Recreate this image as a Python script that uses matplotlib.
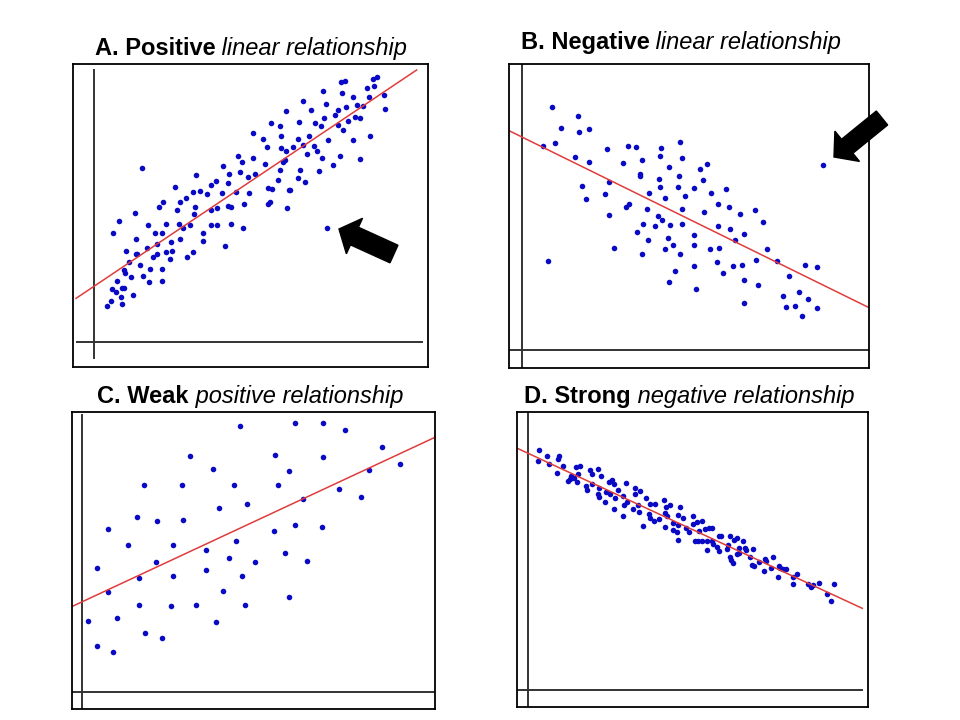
import numpy as np
import matplotlib
matplotlib.use("Agg")
import matplotlib.pyplot as plt
from matplotlib.patches import FancyArrow

plt.rcParams['font.family'] = ['Liberation Sans', 'DejaVu Sans']

pts_a = [(812,67),(825,63),(908,58),(922,52),(890,84),(912,77),(943,104),(946,146),(898,111),
         (880,138),(860,135),(850,112),(817,100),(829,142),(804,150),(795,166),(856,170),(869,174),
         (835,183),(805,195),(818,211),(850,240),(901,229),(871,297),(810,288),(790,316),(748,332),
         (757,295),(742,274),(732,257),(775,240),(753,198),(762,173),(767,132),(759,94),(735,190),
         (716,228),(712,281),(700,255),(724,150),(700,122),(686,187),(683,237),(690,329),(684,353),
         (704,367),(659,390),(652,443),(645,301),(630,329),(633,263),(649,273),(668,260),(640,305),
         (624,360),(634,229),(630,198),(648,153),(604,190),(590,260),(580,236),(550,218),(585,312),
         (550,295),(517,305),(503,287),(510,336),(535,352),(556,343),(537,398),(523,432),(497,395),
         (478,342),(474,370),(459,318),(455,398),(437,363),(423,375),(410,402),(379,346),(389,392),
         (368,395),(348,413),(316,381),(331,425),(376,440),(372,461),(360,495),(338,505),(326,491),
         (322,450),(289,491),(278,426),(268,440),(423,450),(440,443),(473,437),(483,440),(482,491),
         (423,494),(442,494),(520,505),(465,557),(400,519),(400,543),(369,575),(350,591),(331,537),
         (303,547),(306,572),(289,575),(300,596),(276,627),(275,664),(262,553),(255,520),(276,520),
         (262,582),(250,590),(241,626),(233,495),(230,565),(219,647),(210,615),(197,581),(200,583),
         (198,536),(195,460),(215,325),(147,482),(130,519),(168,572),(176,605),(162,630),(165,639),
         (182,651),(140,664),(127,686),(137,697),(157,684),(162,683),(153,712),(157,733),(124,722),
         (112,737),(188,706),(236,667),(594,432),(600,427),(593,384),(605,386),(658,390),(770,505)]

pts_b = [(142,141),(218,167),(168,203),(222,217),(251,207),(149,250),(113,258),(210,291),(251,305),
         (305,268),(368,258),(393,262),(355,308),(411,301),(404,342),(405,347),(467,265),(465,287),
         (524,246),(531,294),(491,320),(586,326),(607,312),(593,359),(522,349),(461,356),(465,381),
         (520,381),(566,385),(541,407),(433,399),(480,413),(372,432),(363,442),(426,447),(458,468),
         (470,479),(451,497),(415,493),(396,516),(429,541),(313,365),(300,403),(232,377),(243,417),
         (313,464),(327,563),(410,581),(479,567),(488,534),(494,494),(505,556),(524,581),(531,447),
         (531,493),(567,526),(567,556),(614,567),(641,563),(618,400),(639,432),(664,388),(673,442),
         (706,462),(749,450),(774,487),(640,497),(676,508),(716,523),(690,541),(786,567),(753,599),
         (817,602),(710,614),(684,617),(636,606),(654,639),(566,618),(509,632),(493,665),(574,687),
         (716,661),(760,676),(716,730),(596,455),(853,647),(901,614),(937,621),(883,697),(833,708),
         (909,716),(843,741),(869,738),(891,767),(937,745),(954,316),(128,602)]

pts_c = [(525,62),(691,55),(773,55),(839,76),(951,125),(1004,178),(913,194),(887,277),(823,252),
         (773,157),(631,150),(672,199),(638,241),(507,241),(443,192),(375,153),(352,241),(236,241),
         (461,308),(547,298),(713,283),(691,361),(770,365),(627,378),(660,443),(726,467),(570,471),
         (514,407),(491,460),(423,435),(423,495),(530,513),(473,558),(540,600),(672,576),(453,650),
         (393,600),(318,604),(325,513),(325,421),(355,344),(277,348),(216,337),(128,372),(190,421),
         (272,471),(221,520),(96,488),(130,562),(221,601),(155,640),(69,647),(239,685),(292,700),
         (96,724),(145,742)]

pts_d = [(87,135),(83,167),(112,153),(118,178),(148,152),(145,163),(158,182),(140,203),(198,186),
         (210,182),(204,207),(184,213),(175,228),(180,222),(192,220),(202,232),(228,242),(232,255),
         (240,196),(246,207),(263,192),(273,213),(245,236),(268,250),(263,268),(266,275),(285,292),
         (288,262),(300,268),(298,230),(305,226),(312,236),(323,256),(316,280),(312,312),(340,272),
         (348,235),(342,300),(350,290),(338,333),(368,312),(376,250),(390,257),(376,267),(383,300),
         (386,322),(400,362),(408,280),(420,297),(418,326),(432,348),(436,297),(420,340),(448,343),
         (463,285),(468,305),(480,300),(465,325),(470,333),(466,365),(490,355),(488,375),(500,380),
         (510,305),(505,330),(520,338),(505,360),(503,404),(527,370),(538,382),(548,334),(548,357),
         (562,352),(575,348),(555,408),(565,408),(575,408),(568,378),(585,372),(598,370),(605,370),
         (592,408),(605,408),(610,418),(590,436),(622,425),(628,437),(628,394),(632,392),(650,433),
         (660,393),(655,420),(660,455),(663,465),(668,473),(672,405),(682,400),(680,446),(688,428),
         (686,445),(700,408),(705,428),(708,436),(730,432),(720,455),(726,480),(733,482),(746,472),
         (765,461),(768,468),(762,499),(784,488),(790,455),(808,482),(810,490),(820,493),(828,493),
         (805,517),(848,515),(848,538),(862,506),(894,537),(903,545),(910,541),(927,535),(972,538),
         (951,566),(962,587)]

# fitted lines (two end points each)
fit_a = [(18, 715), (1040, 30)]
fit_b = [(12, 212), (1090, 742)]
fit_c = [(20, 605), (1110, 97)]
fit_d = [(22, 130), (1057, 610)]

title_bold = ["A. Positive", "B. Negative", "C. Weak", "D. Strong"]
title_ital = [" linear relationship", " linear relationship",
              " positive relationship", " negative relationship"]
title_pos = [(251, 55), (681, 49), (250, 403), (689, 403)]

W, H = 960, 720
fig = plt.figure(figsize=(9.6, 7.2), dpi=100)
fig.patch.set_facecolor('white')

# panel box in pixels (left, top, right, bottom), and data limits of the box
panels = [
    dict(box=(72.7, 64, 428.3, 366.7), lim=(8, 1075, 12, 920), pts=pts_a, fit=fit_a,
         vline=(73, 30, 895), hline=(845, 20, 1057)),
    dict(box=(509, 64, 869, 368.3), lim=(12, 1092, 12, 925), pts=pts_b, fit=fit_b,
         vline=(52, 12, 925), hline=(870, 12, 1088)),
    dict(box=(71.7, 412.3, 435, 709), lim=(20, 1110, 22, 912), pts=pts_c, fit=fit_c,
         vline=(52, 30, 912), hline=(860, 20, 1110)),
    dict(box=(517.3, 412.3, 868.3, 706.7), lim=(22, 1075, 22, 905), pts=pts_d, fit=fit_d,
         vline=(53, 22, 905), hline=(855, 22, 1057)),
]

axes = []
for p in panels:
    l, t, r, b = p['box']
    ax = fig.add_axes([l / W, 1 - b / H, (r - l) / W, (b - t) / H])
    x0, x1, y0, y1 = p['lim']
    ax.set_xlim(x0, x1)
    ax.set_ylim(y1, y0)
    ax.set_xticks([])
    ax.set_yticks([])
    for s in ax.spines.values():
        s.set_color('black')
        s.set_linewidth(1.3)
    vx, vy0, vy1 = p['vline']
    ax.plot([vx, vx], [vy0, vy1], color='#333333', lw=1.4)
    hy, hx0, hx1 = p['hline']
    ax.plot([hx0, hx1], [hy, hy], color='#333333', lw=1.4)
    pts = np.array(p['pts'])
    ax.plot(pts[:, 0], pts[:, 1], 'o', color='#0a0ac4', ms=4.0, mew=0)
    f = np.array(p['fit'])
    ax.plot(f[:, 0], f[:, 1], color='#e03c3c', lw=1.1)
    axes.append(ax)

# the outlier arrows
axes[0].add_patch(FancyArrow(972, 582, 807 - 972, 507 - 582, width=58, head_width=117,
                             head_length=51, length_includes_head=True, color='black',
                             clip_on=False))
axes[1].add_patch(FancyArrow(1131, 174, 987 - 1131, 291 - 174, width=54, head_width=117,
                             head_length=51, length_includes_head=True, color='black',
                             clip_on=False))

# titles: bold part + italic part, centred together
renderer = fig.canvas.get_renderer()
for bold, ital, (cx, by) in zip(title_bold, title_ital, title_pos):
    t1 = fig.text(0, 1 - by / H, bold, ha='left', va='baseline', fontsize=17,
                  fontweight='bold', color='black')
    t2 = fig.text(0, 1 - by / H, ital, ha='left', va='baseline', fontsize=17,
                  fontstyle='italic', color='black')
    w1 = t1.get_window_extent(renderer).width
    w2 = t2.get_window_extent(renderer).width
    left = cx - (w1 + w2) / 2
    t1.set_x(left / W)
    t2.set_x((left + w1) / W)

fig.savefig('out.png', dpi=100)
